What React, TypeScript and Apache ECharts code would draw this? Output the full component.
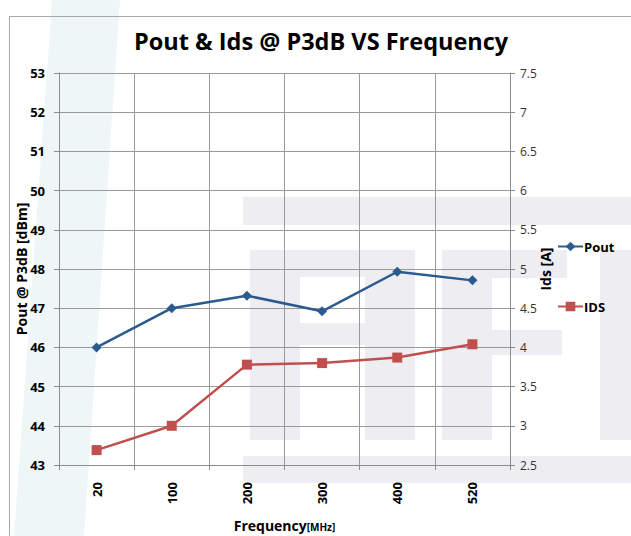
import React, { useEffect, useRef } from "react";
import * as echarts from "echarts";

const categories = ["20", "100", "200", "300", "400", "520"];
const poutValues = [46.0, 47.0, 47.32, 46.92, 47.93, 47.71];
const idsValues = [2.69, 3.0, 3.78, 3.8, 3.87, 4.04];
const leftTicks = { min: 43, max: 53, interval: 1 };
const rightTicks = { min: 2.5, max: 7.5, interval: 0.5 };

const BLUE = "#2A5A8E";
const RED = "#C0504D";
const WM = "#EDEDF2";
const FONT = "'Open Sans', 'Noto Sans', sans-serif";

export default function App() {
  const ref = useRef<HTMLDivElement>(null);
  useEffect(() => {
    if (!ref.current) return;
    const chart = echarts.init(ref.current, null, { renderer: "svg" });
    const wmRect = (x: number, y: number, w: number, h: number) => ({
      type: "rect",
      z: -10,
      silent: true,
      shape: { x, y, width: w, height: h },
      style: { fill: WM },
    });
    chart.setOption({
      animation: false,
      backgroundColor: "#ffffff",
      textStyle: { fontFamily: FONT },
      graphic: [
        {
          type: "polygon",
          z: -11,
          silent: true,
          shape: { points: [[52, 0], [120, 0], [84, 536], [14, 536]] },
          style: { fill: "#EEF6F8" },
        },
        wmRect(243, 197, 388, 28),
        wmRect(250, 250, 50, 190),
        wmRect(250, 250, 165, 27),
        wmRect(365, 250, 50, 95),
        wmRect(300, 323, 70, 22),
        wmRect(365, 345, 50, 95),
        wmRect(442, 250, 50, 190),
        wmRect(442, 250, 125, 28),
        wmRect(442, 330, 120, 25),
        wmRect(600, 250, 40, 190),
        wmRect(243, 456, 388, 27),
        {
          type: "rect",
          z: 100,
          silent: true,
          shape: { x: 9.5, y: 16.5, width: 700, height: 600 },
          style: { fill: "none", stroke: "#A8A8A8", lineWidth: 1 },
        },
        {
          type: "text",
          z: 100,
          left: 134,
          top: 29,
          style: {
            text: "Pout & Ids @ P3dB VS Frequency",
            font: `bold 23.5px ${FONT}`,
            fill: "#000",
          },
        },
      ],
      legend: {
        orient: "vertical",
        left: 552,
        top: 235,
        itemGap: 47,
        itemWidth: 25,
        itemHeight: 12,
        textStyle: { fontFamily: FONT, fontWeight: "bold", fontSize: 13, color: "#000", padding: [0, 0, 0, -4] },
        data: ["Pout", "IDS"],
      },
      grid: { left: 59, right: 121, top: 73, bottom: 71, containLabel: false, outerBoundsMode: "none" },
      xAxis: {
        type: "category",
        data: categories,
        boundaryGap: true,
        axisLine: { show: true, lineStyle: { color: "#8C8C8C" } },
        axisTick: { show: true, length: 5, alignWithLabel: false, lineStyle: { color: "#8C8C8C" } },
        splitLine: { show: true, lineStyle: { color: "#9A9A9A", width: 1 } },
        axisLabel: { rotate: 90, margin: 17, fontFamily: FONT, fontWeight: "bold", fontSize: 13, color: "#000" },
        name: "{a|Frequency}{b|[MHz]}",
        nameLocation: "middle",
        nameGap: 53,
        nameMoveOverlap: false,
        nameTextStyle: {
          rich: {
            a: { fontFamily: FONT, fontWeight: "bold", fontSize: 14, color: "#000" },
            b: { fontFamily: FONT, fontWeight: "bold", fontSize: 10, color: "#000", padding: [3, 0, 0, 0] },
          },
        },
      },
      yAxis: [
        {
          type: "value",
          min: leftTicks.min,
          max: leftTicks.max,
          interval: leftTicks.interval,
          position: "left",
          axisLine: { show: true, lineStyle: { color: "#8C8C8C" } },
          axisTick: { show: true, length: 5, lineStyle: { color: "#8C8C8C" } },
          splitLine: { show: true, lineStyle: { color: "#9A9A9A", width: 1 } },
          axisLabel: { margin: 14, fontFamily: FONT, fontWeight: "bold", fontSize: 13, color: "#000" },
          name: "Pout @ P3dB [dBm]",
          nameLocation: "middle",
          nameRotate: 90,
          nameGap: 31,
          nameMoveOverlap: false,
          nameTextStyle: { fontFamily: FONT, fontWeight: "bold", fontSize: 14, color: "#000" },
        },
        {
          type: "value",
          min: rightTicks.min,
          max: rightTicks.max,
          interval: rightTicks.interval,
          position: "right",
          axisLine: { show: true, lineStyle: { color: "#8C8C8C" } },
          axisTick: { show: true, length: 5, lineStyle: { color: "#8C8C8C" } },
          splitLine: { show: false },
          axisLabel: { margin: 10, fontFamily: FONT, fontSize: 12, color: "#333" },
          name: "Ids [A]",
          nameLocation: "middle",
          nameRotate: 90,
          nameGap: 28,
          nameMoveOverlap: false,
          nameTextStyle: { fontFamily: FONT, fontWeight: "bold", fontSize: 14, color: "#000" },
        },
      ],
      series: [
        {
          name: "Pout",
          type: "line",
          yAxisIndex: 0,
          data: poutValues,
          symbol: "diamond",
          symbolSize: 10,
          lineStyle: { color: BLUE, width: 2.5 },
          itemStyle: { color: BLUE },
        },
        {
          name: "IDS",
          type: "line",
          yAxisIndex: 1,
          data: idsValues,
          symbol: "rect",
          symbolSize: 10,
          lineStyle: { color: RED, width: 2.5 },
          itemStyle: { color: RED },
        },
      ],
    });
    return () => chart.dispose();
  }, []);
  return (
    <div
      ref={ref}
      style={{ position: "fixed", left: 0, top: 0, width: 631, height: 536 }}
    />
  );
}
